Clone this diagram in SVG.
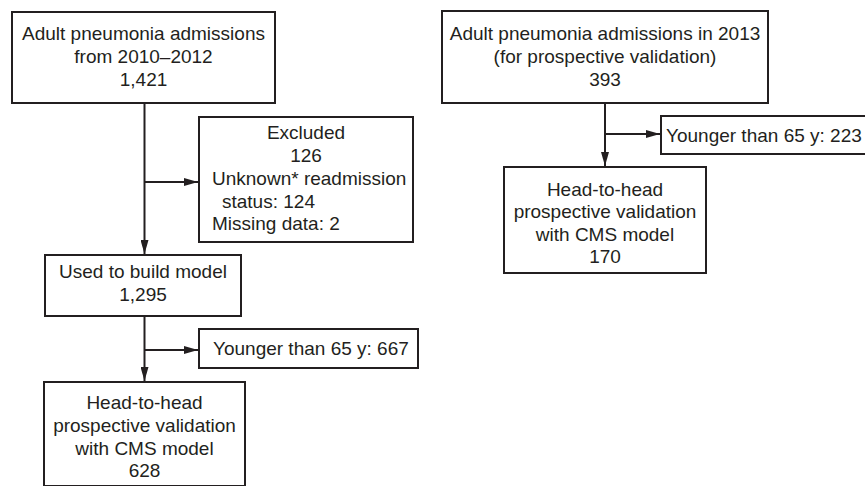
<svg xmlns="http://www.w3.org/2000/svg" width="865" height="486" viewBox="0 0 865 486">
<style>
.box{fill:#fff;stroke:#231f20;stroke-width:2}
.t{font-family:"Liberation Sans",Arial,sans-serif;font-size:19px;fill:#231f20}
.c{text-anchor:middle}
.ln{fill:none;stroke:#231f20;stroke-width:2}
</style>
<defs>
<marker id="ah" viewBox="0 0 14 8" refX="14" refY="4" markerWidth="14" markerHeight="8" markerUnits="userSpaceOnUse" orient="auto">
<path d="M0,0 L14,4 L0,8 Z" fill="#231f20"/>
</marker>
</defs>
<rect width="865" height="486" fill="#fff"/>
<g id="connectors">
<path class="ln" d="M144.5,103 V254" marker-end="url(#ah)"/>
<path class="ln" d="M144.5,182 H198" marker-end="url(#ah)"/>
<path class="ln" d="M144.5,316 V381" marker-end="url(#ah)"/>
<path class="ln" d="M144.5,350 H198" marker-end="url(#ah)"/>
<path class="ln" d="M605,103 V166" marker-end="url(#ah)"/>
<path class="ln" d="M605,134 H660" marker-end="url(#ah)"/>
</g>
<g id="n1">
<rect class="box" x="12" y="12" width="263" height="91"/>
<text class="t c" x="143.5" y="40">Adult pneumonia admissions</text>
<text class="t c" x="143.5" y="63">from 2010–2012</text>
<text class="t c" x="143.5" y="86">1,421</text>
</g>
<g id="n2">
<rect class="box" x="199" y="117" width="214" height="125"/>
<text class="t c" x="306" y="139">Excluded</text>
<text class="t c" x="306" y="161.5">126</text>
<text class="t" x="212" y="184.5">Unknown* readmission</text>
<text class="t" x="222" y="207.5">status: 124</text>
<text class="t" x="212" y="230">Missing data: 2</text>
</g>
<g id="n3">
<rect class="box" x="45" y="255" width="196" height="61"/>
<text class="t c" x="143" y="277.5">Used to build model</text>
<text class="t c" x="143" y="300.5">1,295</text>
</g>
<g id="n4">
<rect class="box" x="199" y="329" width="219" height="39"/>
<text class="t" x="213" y="355">Younger than 65 y: 667</text>
</g>
<g id="n5">
<rect class="box" x="44" y="382" width="201" height="104"/>
<text class="t c" x="144.5" y="408.5">Head-to-head</text>
<text class="t c" x="144.5" y="431.5">prospective validation</text>
<text class="t c" x="144.5" y="454.5">with CMS model</text>
<text class="t c" x="144.5" y="477">628</text>
</g>
<g id="n6">
<rect class="box" x="442" y="11" width="326" height="92"/>
<text class="t c" x="605" y="40">Adult pneumonia admissions in 2013</text>
<text class="t c" x="605" y="63">(for prospective validation)</text>
<text class="t c" x="605" y="86">393</text>
</g>
<g id="n7">
<rect class="box" x="661" y="116" width="215" height="38"/>
<text class="t" x="666" y="141.6">Younger than 65 y: 223</text>
</g>
<g id="n8">
<rect class="box" x="504" y="167" width="202" height="106"/>
<text class="t c" x="605" y="195.7">Head-to-head</text>
<text class="t c" x="605" y="218.2">prospective validation</text>
<text class="t c" x="605" y="240.7">with CMS model</text>
<text class="t c" x="605" y="263.2">170</text>
</g>
</svg>
